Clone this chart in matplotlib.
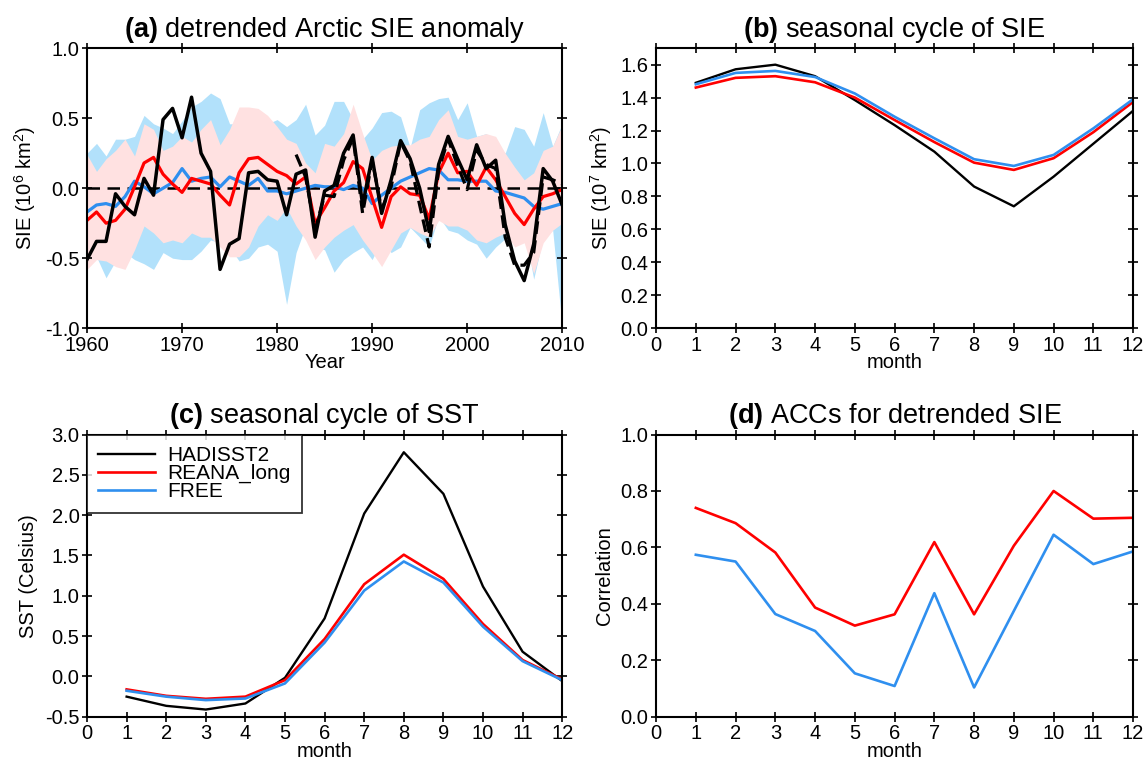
import numpy as np
import matplotlib
matplotlib.use('Agg')
import matplotlib.pyplot as plt

plt.rcParams['font.family'] = ['Liberation Sans', 'DejaVu Sans']
plt.rcParams['mathtext.fontset'] = 'custom'
plt.rcParams['mathtext.rm'] = 'Liberation Sans'
plt.rcParams['mathtext.bf'] = 'Liberation Sans:bold'
plt.rcParams['axes.unicode_minus'] = False

# ---- (a) detrended SIE anomaly, 1960-2010 ----
years = np.arange(1960, 2011)
obs = [-0.51, -0.38, -0.38, -0.04, -0.13, -0.19, 0.07, -0.05, 0.49, 0.57,
       0.36, 0.65, 0.25, 0.12, -0.58, -0.40, -0.36, 0.11, 0.12, 0.06,
       0.05, -0.19, 0.10, 0.13, -0.35, -0.02, 0.02, 0.25, 0.38, -0.12,
       0.22, -0.18, 0.06, 0.34, 0.21, 0.0, -0.31, 0.17, 0.37, 0.21,
       0.06, 0.31, 0.14, 0.20, -0.26, -0.52, -0.66, -0.40, 0.14, 0.05, -0.12]
obs2_years = np.arange(1982, 2011)
obs2 = [0.24, 0.08, -0.30, -0.05, -0.06, 0.20, 0.36, -0.18, 0.20, -0.15,
        0.01, 0.33, 0.19, -0.12, -0.42, 0.13, 0.35, 0.16, -0.01, 0.27,
        0.17, 0.14, -0.35, -0.55, -0.55, -0.46, 0.08, 0.06, 0.03]
reana = [-0.23, -0.17, -0.25, -0.23, -0.15, 0.01, 0.18, 0.22, 0.10, 0.03,
         -0.03, 0.07, 0.05, 0.03, -0.05, -0.12, 0.11, 0.21, 0.22, 0.17,
         0.12, 0.09, 0.03, 0.08, -0.25, -0.14, -0.02, 0.04, 0.19, 0.14,
         -0.07, -0.28, -0.06, 0.01, -0.04, -0.05, -0.22, 0.11, 0.25, 0.11,
         0.12, 0.02, 0.15, 0.06, -0.06, -0.18, -0.26, -0.15, -0.06, -0.04, -0.01]
free = [-0.17, -0.12, -0.11, -0.13, -0.06, 0.05, 0.01, -0.04, 0.0, 0.04,
        0.14, 0.05, 0.07, 0.08, 0.01, 0.08, 0.05, 0.02, 0.07, -0.02,
        -0.02, -0.04, -0.02, 0.0, 0.02, 0.01, 0.01, -0.01, 0.02, 0.0,
        -0.11, -0.05, 0.0, 0.05, 0.08, 0.11, 0.14, 0.13, 0.06, 0.06,
        0.05, 0.05, 0.05, -0.02, -0.03, -0.05, -0.07, -0.13, -0.15, -0.13, -0.11]
free_hi = [0.25, 0.32, 0.23, 0.35, 0.35, 0.37, 0.52, 0.46, 0.43, 0.39,
           0.48, 0.58, 0.62, 0.68, 0.64, 0.46, 0.46, 0.43, 0.43, 0.46,
           0.49, 0.44, 0.49, 0.60, 0.38, 0.45, 0.62, 0.62, 0.49, 0.35,
           0.43, 0.54, 0.55, 0.51, 0.29, 0.56, 0.61, 0.64, 0.65, 0.49,
           0.61, 0.37, 0.39, 0.32, 0.25, 0.44, 0.42, 0.30, 0.54, 0.30, 0.46]
free_lo = [-0.44, -0.49, -0.64, -0.52, -0.46, -0.51, -0.54, -0.58, -0.46, -0.50,
           -0.51, -0.51, -0.45, -0.37, -0.39, -0.42, -0.52, -0.50, -0.42, -0.40,
           -0.45, -0.83, -0.46, -0.27, -0.42, -0.44, -0.60, -0.51, -0.46, -0.42,
           -0.51, -0.37, -0.46, -0.42, -0.28, -0.35, -0.42, -0.20, -0.30, -0.32,
           -0.37, -0.40, -0.50, -0.42, -0.36, -0.35, -0.27, -0.65, -0.35, -0.30, -0.99]
reana_hi = [0.24, 0.12, 0.21, 0.27, 0.35, 0.23, 0.46, 0.42, 0.27, 0.30,
            0.37, 0.33, 0.42, 0.49, 0.31, 0.42, 0.58, 0.58, 0.57, 0.52,
            0.44, 0.35, 0.32, 0.18, 0.11, 0.32, 0.30, 0.39, 0.60, 0.39,
            0.20, 0.27, 0.30, 0.31, 0.31, 0.35, 0.37, 0.49, 0.56, 0.37,
            0.35, 0.37, 0.39, 0.37, 0.25, 0.15, 0.06, 0.11, 0.27, 0.30, 0.45]
reana_lo = [-0.58, -0.51, -0.52, -0.56, -0.58, -0.44, -0.27, -0.32, -0.39, -0.37,
            -0.39, -0.32, -0.35, -0.35, -0.42, -0.49, -0.49, -0.42, -0.27, -0.19,
            -0.23, -0.14, -0.27, -0.37, -0.51, -0.42, -0.35, -0.30, -0.26, -0.37,
            -0.46, -0.56, -0.44, -0.32, -0.28, -0.32, -0.35, -0.23, -0.27, -0.27,
            -0.30, -0.37, -0.39, -0.35, -0.32, -0.42, -0.39, -0.61, -0.39, -0.30, -0.25]

# ---- monthly panels ----
months = np.arange(1, 13)
sie_obs = [1.49, 1.572, 1.60, 1.53, 1.385, 1.233, 1.072, 0.86, 0.74, 0.92, 1.12, 1.32]
sie_reana = [1.461, 1.52, 1.53, 1.493, 1.40, 1.264, 1.13, 1.005, 0.961, 1.032, 1.19, 1.374]
sie_free = [1.481, 1.55, 1.562, 1.525, 1.425, 1.284, 1.153, 1.026, 0.985, 1.052, 1.213, 1.39]

sst_obs = [-0.25, -0.364, -0.41, -0.335, -0.016, 0.72, 2.02, 2.78, 2.265, 1.115, 0.307, -0.057]
sst_reana = [-0.16, -0.24, -0.277, -0.25, -0.045, 0.465, 1.144, 1.51, 1.21, 0.651, 0.204, -0.036]
sst_free = [-0.177, -0.25, -0.293, -0.273, -0.086, 0.42, 1.065, 1.426, 1.165, 0.618, 0.19, -0.045]

acc_reana = [0.74, 0.686, 0.582, 0.387, 0.323, 0.363, 0.619, 0.363, 0.606, 0.80, 0.702, 0.705]
acc_free = [0.574, 0.55, 0.364, 0.304, 0.154, 0.109, 0.438, 0.104, 0.375, 0.645, 0.541, 0.586]

RED = '#ff0000'
BLUE = '#2f8fef'
PINK = '#ffe1e1'
LBLUE = '#b2e1fb'
FS = 14.5

fig = plt.figure(figsize=(11.45, 7.65), dpi=100)
axa = fig.add_axes([0.076, 0.571, 0.415, 0.366])
axb = fig.add_axes([0.573, 0.571, 0.4166, 0.366])
axc = fig.add_axes([0.076, 0.063, 0.415, 0.369])
axd = fig.add_axes([0.573, 0.063, 0.4166, 0.369])


def style(ax):
    ax.tick_params(direction='inout', length=7, width=1.2, labelsize=FS,
                   top=True, right=True, pad=2)
    for s in ax.spines.values():
        s.set_linewidth(1.5)


def title(ax, tag, text):
    ax.set_title(r'$\mathbf{(' + tag + r')}$ ' + text, fontsize=19.5, pad=8)


# (a)
axa.fill_between(years, free_lo, free_hi, color=LBLUE, lw=0)
axa.fill_between(years, reana_lo, reana_hi, color=PINK, lw=0)
axa.axhline(0, color='k', ls=(0, (5, 3)), lw=1.8)
axa.plot(years, free, color=BLUE, lw=2.3)
axa.plot(years, reana, color=RED, lw=2.3)
axa.plot(obs2_years, obs2, color='k', lw=2.3, ls=(0, (4, 2)))
axa.plot(years, obs, color='k', lw=2.5)
axa.set_xlim(1960, 2010)
axa.set_ylim(-1.0, 1.0)
axa.set_xticks(np.arange(1960, 2011, 10))
axa.set_yticks(np.arange(-1.0, 1.01, 0.5))
axa.yaxis.set_major_formatter('{x:.1f}')
axa.set_xlabel('Year', fontsize=FS, labelpad=-1)
axa.set_ylabel(r'SIE (10$^6$ km$^2$)', fontsize=FS, labelpad=5)
title(axa, 'a', 'detrended Arctic SIE anomaly')
style(axa)

# (b)
axb.plot(months, sie_obs, color='k', lw=1.7)
axb.plot(months, sie_reana, color=RED, lw=1.9)
axb.plot(months, sie_free, color=BLUE, lw=1.9)
axb.set_xlim(0, 12)
axb.set_ylim(0, 1.7)
axb.set_xticks(np.arange(0, 13))
axb.set_yticks(np.arange(0, 1.61, 0.2))
axb.yaxis.set_major_formatter('{x:.1f}')
axb.set_xlabel('month', fontsize=FS, labelpad=-1)
axb.set_ylabel(r'SIE (10$^7$ km$^2$)', fontsize=FS, labelpad=5)
title(axb, 'b', 'seasonal cycle of SIE')
style(axb)

# (c)
axc.plot(months, sst_obs, color='k', lw=1.7, label='HADISST2')
axc.plot(months, sst_reana, color=RED, lw=1.9, label='REANA_long')
axc.plot(months, sst_free, color=BLUE, lw=1.9, label='FREE')
axc.set_xlim(0, 12)
axc.set_ylim(-0.5, 3.0)
axc.set_xticks(np.arange(0, 13))
axc.set_yticks(np.arange(-0.5, 3.01, 0.5))
axc.yaxis.set_major_formatter('{x:.1f}')
axc.set_xlabel('month', fontsize=FS, labelpad=-1)
axc.set_ylabel('SST (Celsius)', fontsize=FS, labelpad=5)
title(axc, 'c', 'seasonal cycle of SST')
style(axc)
leg = axc.legend(loc='upper left', bbox_to_anchor=(0.0, 1.0), fontsize=15,
                 frameon=True, fancybox=False, handlelength=2.7,
                 borderaxespad=0, labelspacing=-0.05, handletextpad=0.6,
                 borderpad=0.55)
leg.get_frame().set_edgecolor('k')
leg.get_frame().set_linewidth(1.3)

# (d)
axd.plot(months, acc_reana, color=RED, lw=1.9)
axd.plot(months, acc_free, color=BLUE, lw=1.9)
axd.set_xlim(0, 12)
axd.set_ylim(0, 1.0)
axd.set_xticks(np.arange(0, 13))
axd.set_yticks(np.arange(0, 1.01, 0.2))
axd.yaxis.set_major_formatter('{x:.1f}')
axd.set_xlabel('month', fontsize=FS, labelpad=-1)
axd.set_ylabel('Correlation', fontsize=FS, labelpad=5)
title(axd, 'd', 'ACCs for detrended SIE')
style(axd)

fig.savefig('out.png', dpi=100)
